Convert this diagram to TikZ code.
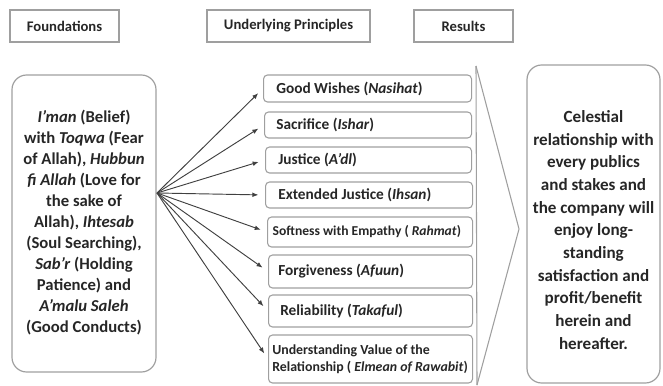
\documentclass[tikz,border=0pt]{standalone}
\usepackage{fontspec}
\setmainfont{Carlito}
\usetikzlibrary{arrows.meta}
\begin{document}
\begin{tikzpicture}[x=0.75pt,y=-0.75pt,
  titlebox/.style={draw=gray!75, line width=1pt, inner sep=0pt, text=black!85,
    font=\bfseries\fontsize{11}{13}\selectfont, minimum height=24pt},
  bigbox/.style={draw=gray!75, line width=0.9pt, rounded corners=11pt, inner sep=0pt, text=black!85, align=center},
  pbox/.style={draw=gray!75, line width=0.8pt, rounded corners=3pt, anchor=west, inner sep=0pt, minimum width=155pt},
  ptext/.style={anchor=west, inner sep=0pt, text=black!85, font=\bfseries\fontsize{11.5}{13.5}\selectfont},
  arr/.style={draw=black!75, line width=0.7pt, -{Latex[length=4.5pt,width=3.6pt]}, shorten >=5pt},
  chev/.style={draw=gray!75, line width=0.8pt}
]
\useasboundingbox (0,0) rectangle (663,385);

% titles
\node[titlebox, minimum width=81.75pt] (tf) at (64.5,26) {Foundations};
\node[titlebox, minimum width=122.25pt] (tu) at (288.5,26) {Underlying Principles};
\node[titlebox, minimum width=74.25pt] (tr) at (463.5,26) {Results};

% left box
\node[bigbox, minimum width=108pt, minimum height=222.75pt] (left) at (84,223.5) {};
\node[align=center, inner sep=0pt, text=black!85, font=\bfseries\fontsize{12.5}{15.75}\selectfont] (lt) at (84,223) {%
\textit{I’man} (Belief)\\ with \textit{Toqwa} (Fear\\ of Allah), \textit{Hubbun}\\ \textit{fi Allah} (Love for\\ the sake of\\ Allah), \textit{Ihtesab}\\ (Soul Searching),\\ \textit{Sab’r} (Holding\\ Patience) and\\ \textit{A’malu Saleh}\\ (Good Conducts)};

% right box
\node[bigbox, minimum width=99.75pt, minimum height=238.5pt] (right) at (593.5,224) {};
\node[align=center, inner sep=0pt, text=black!85, font=\bfseries\fontsize{12.8}{17}\selectfont] (rt) at (593.5,230) {%
Celestial\\ relationship with\\ every publics\\ and stakes and\\ the company will\\ enjoy long-\\ standing\\ satisfaction and\\ profit/benefit\\ herein and\\ hereafter.};

% principle boxes
\node[pbox, minimum width=156pt, minimum height=20.25pt] (p1) at (263,88.5) {};
\node[ptext] (t1) at ([xshift=9.75pt]p1.west) {Good Wishes (\textit{Nasihat})};
\node[pbox, minimum width=155.25pt, minimum height=19.5pt] (p2) at (264,125) {};
\node[ptext] (t2) at ([xshift=9pt]p2.west) {Sacrifice (\textit{Ishar})};
\node[pbox, minimum width=154.5pt, minimum height=19.5pt] (p3) at (265,160) {};
\node[ptext] (t3) at ([xshift=9.75pt]p3.west) {Justice (\textit{A’dl})};
\node[pbox, minimum width=155.25pt, minimum height=19.5pt] (p4) at (265,195) {};
\node[ptext] (t4) at ([xshift=9.75pt]p4.west) {Extended Justice (\textit{Ihsan})};
\node[pbox, minimum width=153.75pt, minimum height=22.5pt] (p5) at (267,232) {};
\node[ptext, font=\bfseries\fontsize{10.2}{12}\selectfont] (t5) at ([xshift=4pt]p5.west) {Softness with Empathy ( \textit{Rahmat})};
\node[pbox, minimum width=153pt, minimum height=24.75pt] (p6) at (268,271.5) {};
\node[ptext] (t6) at ([xshift=7.5pt]p6.west) {Forgiveness (\textit{Afuun})};
\node[pbox, minimum width=153pt, minimum height=24pt] (p7) at (268,311) {};
\node[ptext] (t7) at ([xshift=9pt]p7.west) {Reliability (\textit{Takaful})};
\node[pbox, minimum width=153pt, minimum height=36pt] (p8) at (268,359) {};
\node[ptext, align=left, font=\bfseries\fontsize{10.4}{13}\selectfont] (t8) at ([xshift=3pt]p8.west) {Understanding Value of the\\ Relationship ( \textit{Elmean of Rawabit})};

% arrows
\coordinate (src) at (157,193);
\foreach \i in {1,...,8} {
  \draw[arr] (src) -- (p\i.west);
}

% chevron
\coordinate (c1) at (476,66);
\coordinate (c2) at (519,229);
\coordinate (c3) at (477,385);
\draw[chev] (c1) -- (c2) -- (c3);
\draw[chev] (c1) -- (c3);
\end{tikzpicture}
\end{document}
